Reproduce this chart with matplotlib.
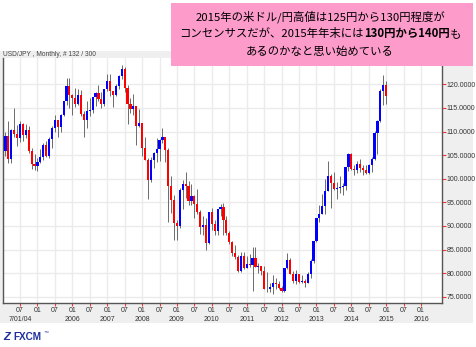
import numpy as np
import pandas as pd
import matplotlib
matplotlib.use("Agg")
import matplotlib.pyplot as plt
from matplotlib.patches import Rectangle
from matplotlib.transforms import blended_transform_factory

plt.rcParams['font.family'] = ['Liberation Sans', 'DejaVu Sans']

# USD/JPY monthly bars, Feb 2004 .. Jan 2015
months = pd.period_range('2004-02', periods=132, freq='M')

opens = [
    105.9, 109.1, 104.2, 110.4, 109.5, 108.7, 111.6, 109.3, 110.3, 105.8, 103.1,
    102.6, 103.6, 104.6, 107.2, 104.8, 108.5, 110.8, 112.4, 110.9, 113.5, 116.4, 119.7,
    117.8, 117.2, 115.9, 117.8, 113.8, 112.5, 114.4, 114.6, 117.3, 118.1, 116.9, 115.8,
    119.0, 120.6, 118.5, 117.8, 119.6, 121.7, 123.2, 119.2, 115.8, 114.8, 115.3, 111.2,
    111.7, 106.4, 103.9, 99.7, 103.9, 105.5, 106.2, 108.1, 108.8, 106.0, 98.5, 95.5,
    90.6, 89.9, 97.6, 98.9, 98.5, 95.3, 96.4, 94.6, 93.0, 89.7, 90.1, 86.3,
    93.0, 90.3, 88.9, 93.5, 94.0, 91.3, 88.4, 86.5, 84.2, 83.5, 80.4, 83.7,
    81.1, 82.0, 81.8, 83.1, 81.2, 81.5, 80.5, 76.7, 76.6, 77.0, 78.0, 77.6,
    76.9, 76.3, 81.1, 82.8, 79.8, 78.3, 79.8, 78.1, 78.4, 77.9, 79.8, 82.5,
    86.7, 91.7, 92.5, 94.2, 97.4, 100.5, 99.1, 97.9, 98.1, 98.3, 98.4, 102.4,
    105.3, 102.0, 101.8, 103.2, 102.2, 101.8, 101.3, 102.8, 104.1, 109.6, 112.3, 118.6,
    119.8,
]
highs = [
    109.9, 112.2, 110.5, 114.9, 111.3, 112.3, 111.8, 111.5, 111.2, 106.4, 105.2,
    104.3, 106.2, 107.5, 108.0, 108.8, 111.2, 113.6, 112.5, 113.7, 116.4, 121.4, 121.4,
    118.0, 119.2, 119.0, 118.7, 114.3, 116.4, 117.0, 117.4, 118.3, 119.9, 118.4, 119.1,
    122.2, 122.2, 118.5, 120.0, 122.0, 124.1, 123.6, 119.8, 117.0, 117.9, 115.5, 114.7,
    111.9, 108.9, 104.4, 104.7, 105.6, 108.6, 108.5, 110.7, 108.9, 106.6, 100.5, 96.6,
    91.2, 98.0, 99.8, 101.4, 99.5, 98.9, 96.5, 97.8, 93.4, 92.2, 91.6, 93.0,
    93.8, 91.3, 93.6, 94.7, 94.9, 92.2, 88.9, 86.9, 86.0, 83.9, 84.4, 84.5,
    83.7, 84.0, 85.5, 85.5, 82.2, 81.6, 81.5, 80.2, 77.9, 79.5, 79.0, 78.3,
    77.2, 81.1, 84.2, 83.3, 80.5, 80.6, 79.9, 79.7, 78.8, 80.3, 83.0, 86.7,
    91.7, 94.5, 96.7, 99.9, 103.7, 100.9, 101.5, 99.2, 100.6, 99.0, 102.5, 105.4,
    105.4, 102.8, 103.8, 104.1, 102.8, 102.8, 103.1, 104.5, 110.1, 112.4, 118.9, 121.9,
    120.8,
]
lows = [
    104.9, 103.4, 103.4, 108.9, 106.9, 107.8, 108.0, 108.6, 105.4, 102.1, 101.8,
    101.7, 103.3, 103.9, 104.6, 104.3, 106.6, 110.0, 108.8, 109.8, 113.3, 115.6, 115.0,
    113.4, 115.2, 115.6, 113.3, 108.9, 110.7, 113.3, 114.0, 115.4, 116.5, 115.0, 115.5,
    118.5, 117.6, 115.1, 117.6, 118.9, 121.1, 118.4, 111.6, 114.0, 113.6, 107.2, 110.9,
    104.9, 103.9, 95.8, 99.2, 102.3, 103.6, 103.8, 107.6, 103.5, 90.9, 92.7, 87.1,
    87.1, 89.6, 93.5, 96.0, 94.4, 94.4, 91.7, 92.6, 88.2, 88.0, 84.8, 86.2,
    89.1, 88.1, 88.1, 92.1, 88.1, 88.1, 86.2, 83.6, 82.9, 80.2, 80.2, 80.9,
    81.1, 81.3, 76.3, 81.2, 80.0, 79.7, 76.7, 75.9, 75.9, 75.6, 76.6, 76.6,
    75.9, 76.1, 80.9, 79.8, 78.0, 77.7, 77.9, 78.0, 77.1, 77.9, 79.0, 82.2,
    86.5, 90.8, 92.5, 92.5, 97.3, 93.8, 97.6, 95.8, 96.9, 96.6, 97.6, 101.6,
    101.8, 100.8, 101.2, 101.4, 100.8, 101.1, 101.1, 101.5, 104.0, 105.2, 112.0, 115.6,
    115.9,
]
closes = [
    109.1, 104.2, 110.4, 109.5, 108.7, 111.6, 109.3, 110.3, 105.8, 103.1, 102.6,
    103.6, 104.6, 107.2, 104.8, 108.5, 110.8, 112.4, 110.9, 113.5, 116.4, 119.7, 117.8,
    117.2, 115.9, 117.8, 113.8, 112.5, 114.4, 114.6, 117.3, 118.1, 116.9, 115.8, 119.0,
    120.6, 118.5, 117.8, 119.6, 121.7, 123.2, 119.2, 115.8, 114.8, 115.3, 111.2, 111.7,
    106.4, 103.9, 99.7, 103.9, 105.5, 106.2, 108.1, 108.8, 106.0, 98.5, 95.5, 90.6,
    89.9, 97.6, 98.9, 98.5, 95.3, 96.4, 94.6, 93.0, 89.7, 90.1, 86.3, 93.0,
    90.3, 88.9, 93.5, 94.0, 91.3, 88.4, 86.5, 84.2, 83.5, 80.4, 83.7, 81.1,
    82.0, 81.8, 83.1, 81.2, 81.5, 80.5, 76.7, 76.6, 77.0, 78.0, 77.6, 76.9,
    76.3, 81.1, 82.8, 79.8, 78.3, 79.8, 78.1, 78.4, 77.9, 79.8, 82.5, 86.7,
    91.7, 92.5, 94.2, 97.4, 100.5, 99.1, 97.9, 98.1, 98.3, 98.4, 102.4, 105.3,
    102.0, 101.8, 103.2, 102.2, 101.8, 101.3, 102.8, 104.1, 109.6, 112.3, 118.6, 119.8,
    117.5,
]

y_ticks = [75, 80, 85, 90, 95, 100, 105, 110, 115, 120]
first_date = '7/01/04'

line1 = '2015年の米ドル/円高値は125円から130円程度が'
line2_parts = [('コンセンサスだが、2015年年末には', 'normal'),
               ('130円から140円', 'bold'), ('も', 'normal')]
line3 = 'あるのかなと思い始めている'

W, H = 476, 347
fig = plt.figure(figsize=(W / 100, H / 100), dpi=100)
fig.patch.set_facecolor('white')


def fx(x):
    return x / W


def fy(y):
    return 1 - y / H


# gray frame behind the chart (header strip, price scale, date scale)
bg = fig.add_axes([0, fy(323), fx(473), 272 / H], zorder=0)
bg.set_facecolor('#efefef')
bg.set_xticks([])
bg.set_yticks([])
for s in bg.spines.values():
    s.set_visible(False)

ax = fig.add_axes([fx(3), fy(303), 439 / W, 245 / H], zorder=1)
ax.set_facecolor('white')

# month index relative to Jan 2004
t = np.array([(m.year - 2004) * 12 + m.month - 1 for m in months], dtype=float)
o = np.array(opens)
h = np.array(highs)
l = np.array(lows)
c = np.array(closes)

ax.vlines(t, l, h, color='#6b6b6b', linewidth=0.7, zorder=2)
up = c >= o
body_w = 0.75
ax.bar(t[up], (c - o)[up], bottom=o[up], width=body_w, color='#0000ff',
       linewidth=0, zorder=3)
ax.bar(t[~up], (o - c)[~up], bottom=c[~up], width=body_w, color='#ff0000',
       linewidth=0, zorder=3)

ax.set_xlim(0.15, 151.2)
ax.set_ylim(73.67, 125.57)

xt = np.arange(6, 145, 6)
ax.set_xticks(xt)
ax.set_xticklabels([])
ax.set_yticks(y_ticks)
ax.set_yticklabels([f'{v:.4f}' for v in y_ticks])
ax.yaxis.tick_right()
ax.tick_params(axis='x', length=2, width=0.8, color='#ff3030', direction='out')
ax.tick_params(axis='y', length=3, width=0.8, color='#ff3030', direction='out',
               pad=0.3, labelsize=5.0, labelcolor='#333333')
ax.grid(True, color='#ebebeb', linewidth=1.0, zorder=0)
ax.set_axisbelow(True)

for side in ['left', 'bottom', 'right']:
    ax.spines[side].set_color('#555555')
    ax.spines[side].set_linewidth(1.0)
ax.spines['top'].set_visible(False)

# two-row date scale: month on top, year under each January
trans = blended_transform_factory(ax.transData, ax.transAxes)
for tick in xt:
    is_jan = tick % 12 == 0
    ax.text(tick, -7 / 245, '01' if is_jan else '07', transform=trans,
            ha='center', va='center', fontsize=5.0, color='#333333')
    year = 2004 + tick // 12
    label = None
    if tick == xt[0]:
        label = first_date
    elif is_jan and year != 2005:
        label = str(year)
    if label:
        ax.text(tick, -16.5 / 245, label, transform=trans,
                ha='center', va='center', fontsize=5.0, color='#333333')

fig.text(fx(3), fy(55), 'USD/JPY , Monthly, # 132 / 300', fontsize=4.8,
         color='#444444', ha='left', va='center', zorder=3)

# pink comment box
fig.patches.append(Rectangle((fx(171), fy(66)), 302 / W, 63 / H,
                             transform=fig.transFigure, facecolor='#fd9bcb',
                             edgecolor='none', zorder=5))
cjk = ['Noto Sans CJK JP', 'DejaVu Sans']
cx = fx(320)
fig.text(cx, fy(17), line1, family=cjk, fontsize=8.2, ha='center',
         va='center', zorder=6)
fig.text(cx, fy(52), line3, family=cjk, fontsize=8.2, ha='center',
         va='center', zorder=6)

renderer = fig.canvas.get_renderer()
pieces = []
for s, wgt in line2_parts:
    tx = fig.text(0, fy(34), s, family=cjk, fontsize=8.2, fontweight=wgt,
                  ha='left', va='center', zorder=6)
    pieces.append(tx)
widths = [p.get_window_extent(renderer).width for p in pieces]
x0 = 320 - sum(widths) / 2
for p, w in zip(pieces, widths):
    p.set_x(fx(x0))
    x0 += w

# broker logo
fig.text(fx(3), fy(337), 'Z', fontsize=8, fontweight='bold', color='#1f2f9c',
         ha='left', va='center', style='italic')
fig.text(fx(13), fy(337.5), 'FXCM', fontsize=7.2, fontweight='bold',
         color='#1f2f9c', ha='left', va='center')
fig.text(fx(44), fy(332), '™', fontsize=3.5, color='#1f2f9c',
         ha='left', va='center')

fig.savefig('out.png', dpi=100)
